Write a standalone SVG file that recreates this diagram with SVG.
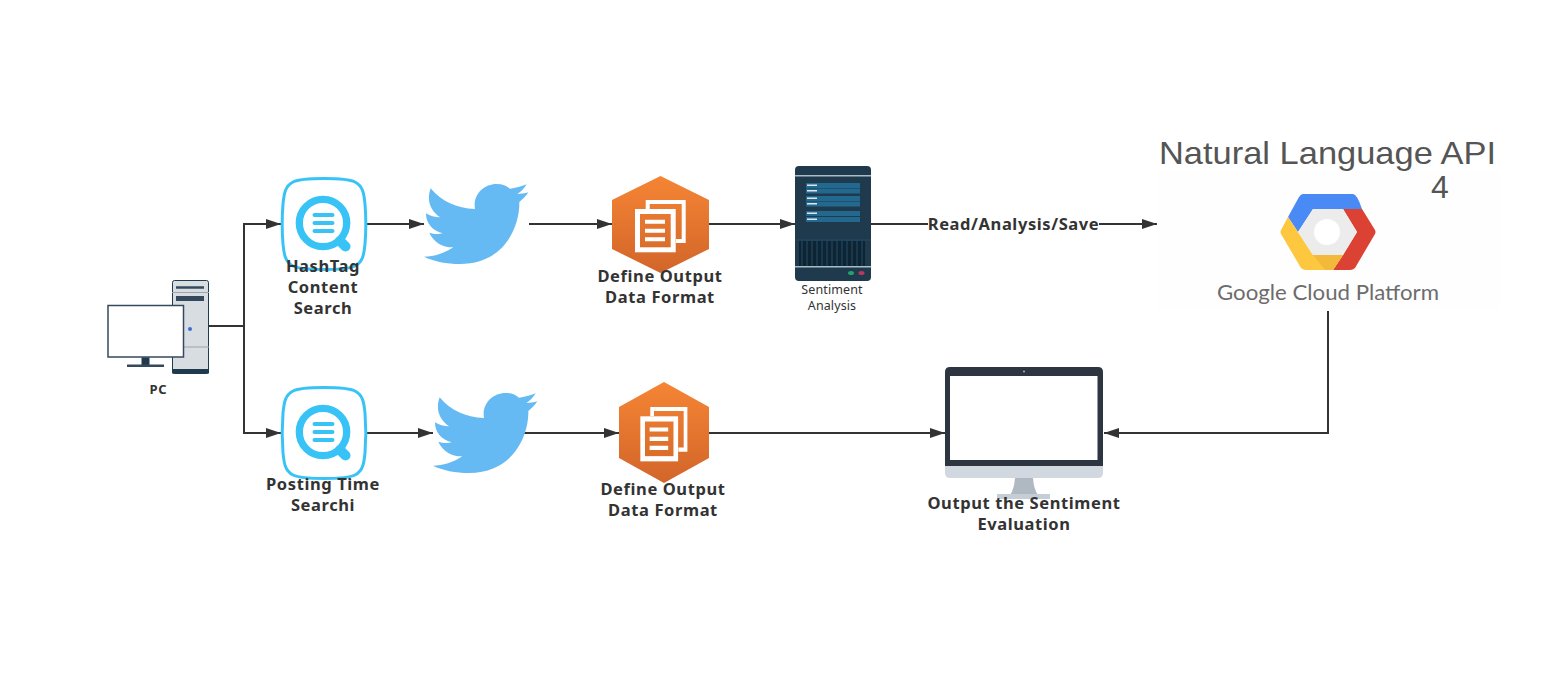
<svg xmlns="http://www.w3.org/2000/svg" width="1560" height="693" viewBox="0 0 1560 693">
<style>
.c{fill:none;stroke:#333;stroke-width:2}
.t{font-family:"Noto Sans","Open Sans","Liberation Sans",sans-serif;font-size:16.500px;font-weight:700;fill:#333;text-anchor:middle;letter-spacing:.6px}
.s{font-family:"Noto Sans","Open Sans","Liberation Sans",sans-serif;font-size:12.500px;fill:#333;text-anchor:middle;letter-spacing:.1px}
.q{fill:#fff;stroke:#38c3f7;stroke-width:3}
.ql{stroke:#38c3f7;stroke-width:4;stroke-linecap:round;fill:none}
.bird{fill:#66baf3}
.panel{fill:#23688f}
.bar{fill:#dbe7ee}
.gcp{font-family:"Liberation Sans",Arial,sans-serif;fill:#555}
</style>
<defs>
<marker id="a" markerUnits="userSpaceOnUse" markerWidth="16" markerHeight="12" refX="15" refY="6" orient="auto"><path d="M0 1L15 6L0 11z" fill="#333"/></marker>
<linearGradient id="h" x1="0" y1="0" x2="0" y2="1"><stop offset="0" stop-color="#f58534"/><stop offset="1" stop-color="#d2652a"/></linearGradient>
<g id="search">
<path class="q" d="M1 -45.500C-13 -45.500 -25 -44.500 -30 -42C-38 -38 -39 -30 -40 -20C-41 -8 -41 8 -40 20C-39 30 -38 38 -30 42C-25 44.500 -13 45.500 1 45.500C15 45.500 27 44.500 32 42C40 38 41 30 42 20C43 8 43 -8 42 -20C41 -30 40 -38 32 -42C27 -44.500 15 -45.500 1 -45.500z" transform="translate(0,1)"/>
<circle cx="0" cy="0" r="23.700" fill="none" stroke="#38c3f7" stroke-width="7.300"/>
<path d="M17 18L22.500 23.500" stroke="#38c3f7" stroke-width="10" stroke-linecap="round"/>
<path class="ql" d="M-8.500 -8H9.500M-8.500 0H9.500M-8.500 8H9.500"/>
</g>
<path id="b" class="bird" d="M290 72C308 72 320 78 330 86C345 84 365 80 380 73C372 86 364 94 352 102C362 102 375 100 385 97C378 108 368 118 358 126C360 190 320 312 180 312C140 312 100 304 72 290C100 290 135 280 160 262C125 262 100 245 88 218C100 222 115 223 128 220C95 212 78 188 78 160C90 168 105 172 120 172C88 150 80 118 92 85C125 125 170 145 225 147C218 105 250 72 290 72z"/>
<g id="hex">
<path d="M48.500 0L97 24V73L48.500 97L0 73V24z" fill="url(#h)"/>
<path d="M35.700 33V26H71.700V65H64" fill="none" stroke="#fff" stroke-width="4"/>
<rect x="25.500" y="35.500" width="35.700" height="38.300" fill="none" stroke="#fff" stroke-width="5"/>
<path d="M33 45.700H53M33 54.700H53M33 63.300H53" stroke="#fff" stroke-width="4"/>
</g>
</defs>
<rect width="1560" height="693" fill="#fff"/>

<g id="connectors">
<path class="c" d="M209 326H244"/>
<path class="c" d="M244 326V224H281" marker-end="url(#a)"/>
<path class="c" d="M244 326V433H281" marker-end="url(#a)"/>
<path class="c" d="M366 224H424" marker-end="url(#a)"/>
<path class="c" d="M529 224H612" marker-end="url(#a)"/>
<path class="c" d="M709 224H795" marker-end="url(#a)"/>
<path class="c" d="M871 224H1157" marker-end="url(#a)"/>
<path class="c" d="M366 433H433" marker-end="url(#a)"/>
<path class="c" d="M524 433H619" marker-end="url(#a)"/>
<path class="c" d="M709 433H945" marker-end="url(#a)"/>
<path class="c" d="M1328 311V433H1104" marker-end="url(#a)"/>
</g>

<g id="pc">
<rect x="172.500" y="280.500" width="36" height="93" rx="2" fill="#d8dde1" stroke="#1f3a4c"/>
<rect x="172" y="369" width="37" height="4.500" fill="#1f3a4c"/>
<path d="M176 287.500H204" stroke="#34495e" stroke-width="2.500"/>
<rect x="176" y="296" width="28" height="5" fill="#34495e"/>
<path d="M172 292.500H209" stroke="#9aa5ad" stroke-width="1"/>
<path d="M172 347H209" stroke="#9aa5ad" stroke-width="1"/>
<circle cx="190" cy="329" r="2" fill="#3a6fd8"/>
<rect x="108" y="305.500" width="75.500" height="51.500" fill="#fff" stroke="#34495e" stroke-width="1.500"/>
<rect x="141.500" y="357.500" width="8" height="7.500" fill="#1f3a4c"/>
<rect x="127" y="364.500" width="37" height="2.500" fill="#34495e"/>
<text class="s" x="158.500" y="394" style="font-weight:700;font-size:13px;letter-spacing:.8px">PC</text>
</g>

<g id="hashtag-search">
<use href="#search" x="323" y="223"/>
<text class="t" x="323" y="272">HashTag</text>
<text class="t" x="323" y="293">Content</text>
<text class="t" x="323" y="314">Search</text>
</g>
<g id="twitter-1"><use href="#b" transform="translate(400,160) scale(.3333)"/></g>
<g id="format-1">
<use href="#hex" x="612" y="176"/>
<text class="t" x="660" y="282">Define Output</text>
<text class="t" x="660" y="303">Data Format</text>
</g>
<g id="server">
<rect x="795" y="166" width="76" height="115" rx="4" fill="#1f3a4c"/>
<path d="M795 175.700H871M795 266.700H871" stroke="#a9bcc8" stroke-width="1.500"/>
<path d="M795 240H871" stroke="#1c4a68" stroke-width="1"/>
<rect class="panel" x="806" y="183" width="54" height="5"/><rect class="panel" x="806" y="188.500" width="54" height="5"/>
<rect class="panel" x="806" y="196" width="54" height="5"/><rect class="panel" x="806" y="201.500" width="54" height="5"/>
<rect class="panel" x="806" y="211" width="54" height="5"/><rect class="panel" x="806" y="217" width="54" height="5"/>
<rect class="bar" x="807" y="184.500" width="10" height="1.500"/><rect class="bar" x="807" y="190" width="10" height="1.500"/>
<rect class="bar" x="807" y="197.500" width="10" height="1.500"/><rect class="bar" x="807" y="203" width="10" height="1.500"/>
<rect class="bar" x="807" y="212.500" width="10" height="1.500"/><rect class="bar" x="807" y="218.500" width="10" height="1.500"/>
<rect x="799" y="241" width="66" height="25" fill="#0f2433"/>
<path d="M802 241V266M807 241V266M812 241V266M817 241V266M822 241V266M827 241V266M832 241V266M837 241V266M842 241V266M847 241V266M852 241V266M857 241V266M862 241V266" stroke="#1c3f57" stroke-width="1.500"/>
<ellipse cx="851" cy="273" rx="3" ry="2" fill="#27a06c"/>
<ellipse cx="861.500" cy="273" rx="3" ry="2" fill="#b8385a"/>
<text class="s" x="832" y="294">Sentiment</text>
<text class="s" x="832" y="310">Analysis</text>
</g>
<g id="read-label">
<rect x="928" y="214" width="171" height="20" fill="#fff"/>
<text class="t" x="1013.500" y="230">Read/Analysis/Save</text>
</g>
<g id="gcp">
<rect x="1158" y="170" width="342" height="140" fill="#fefefe"/>
<text class="gcp" x="1159" y="164" font-size="32" textLength="337" lengthAdjust="spacingAndGlyphs">Natural Language API</text>
<text class="gcp" x="1431" y="198" font-size="32">4</text>
<path d="M1303 194H1353Q1357 194 1362 209H1313L1298 232L1288 217L1299 197Q1301 194 1303 194z" fill="#4a8af4"/>
<path d="M1343 209H1362L1375 230Q1376 232 1375 234L1355 268Q1353 270 1350 270H1333L1343 255L1357 232z" fill="#dc4233"/>
<path d="M1288 217L1298 232L1313 255H1343L1333 270H1306Q1303 270 1301 268L1281 234Q1280 232 1281 230z" fill="#fdc83f"/>
<path d="M1313 255H1343L1333 270H1325z" fill="#f3b93a"/>
<path d="M1313 209H1343L1357 232L1343 255H1313L1298 232z" fill="#ececec"/>
<circle cx="1327" cy="232" r="13" fill="#fff"/>
<text x="1217" y="300" font-family="Lato,'Liberation Sans',sans-serif" font-size="22" fill="#6c6c6c" textLength="222" lengthAdjust="spacingAndGlyphs">Google Cloud Platform</text>
</g>

<g id="posting-search">
<use href="#search" x="323" y="432"/>
<text class="t" x="323" y="490">Posting Time</text>
<text class="t" x="323" y="511">Searchi</text>
</g>
<g id="twitter-2"><use href="#b" transform="translate(409,369) scale(.3333)"/></g>
<g id="format-2">
<use href="#hex" transform="translate(619,382) scale(.928,1.04)"/>
<text class="t" x="663" y="495">Define Output</text>
<text class="t" x="663" y="516">Data Format</text>
</g>
<g id="monitor">
<path d="M1015 478H1033Q1034 490 1038 495H1010Q1014 490 1015 478z" fill="#b0b9c1"/>
<rect x="997" y="494" width="53" height="5" fill="#c5ced6"/>
<path d="M945 462H1103V473Q1103 478 1098 478H950Q945 478 945 473z" fill="#d1d8df"/>
<path d="M945 466V372Q945 367 950 367H1098Q1103 367 1103 372V466z" fill="#2c3540"/>
<rect x="950" y="376" width="147.500" height="84" fill="#fff"/>
<circle cx="1024" cy="371.500" r="1" fill="#a9b4be"/>
<text class="t" x="1024" y="509">Output the Sentiment</text>
<text class="t" x="1024" y="530">Evaluation</text>
</g>
</svg>
